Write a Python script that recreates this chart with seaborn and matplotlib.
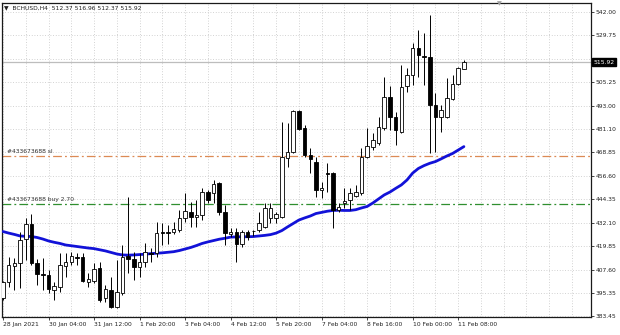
import numpy as np
import pandas as pd
import matplotlib
matplotlib.use("Agg")
import matplotlib.pyplot as plt
import matplotlib.transforms as mtransforms
import seaborn as sns

sns.set_style("white")
plt.rcParams['font.family'] = ['DejaVu Sans']

# ---------------- data (BCHUSD H4) ----------------
opens = [392.9, 401.2, 409.6, 411.1, 423.6, 431.4, 411.1, 405.4, 404.8, 397.0,
         398.6, 409.6, 411.6, 414.2, 414.2, 401.2, 401.7, 408.5, 392.9, 397.0,
         388.2, 395.5, 414.7, 413.2, 409.1, 411.6, 416.3, 416.3, 427.3, 427.3,
         427.3, 428.3, 434.6, 437.7, 435.1, 436.1, 448.1, 447.6, 452.8, 437.7,
         426.2, 427.3, 421.0, 427.3, 427.8, 428.3, 429.9, 434.6, 434.6, 435.1,
         465.9, 469.0, 490.4, 481.5, 467.4, 463.8, 449.2, 458.0, 458.0, 438.7,
         442.4, 444.0, 446.0, 447.6, 466.4, 471.6, 473.7, 481.5, 497.7, 487.2,
         479.4, 503.4, 509.1, 523.2, 519.1, 518.5, 493.5, 487.2, 487.2, 496.6,
         504.5, 512.37]
highs = [401.5, 414.2, 413.7, 427.3, 434.6, 436.7, 413.2, 413.7, 407.5, 401.2,
         416.3, 416.3, 416.8, 416.3, 416.3, 405.9, 411.1, 411.6, 399.6, 403.8,
         412.7, 420.5, 445.7, 416.8, 416.3, 421.5, 418.9, 432.5, 432.0, 431.0,
         432.5, 438.7, 447.6, 442.9, 444.0, 450.2, 449.2, 454.4, 453.5, 441.3,
         429.4, 429.4, 428.3, 428.3, 428.3, 437.7, 442.4, 442.4, 437.7, 484.6,
         484.1, 490.9, 491.0, 483.1, 471.1, 466.4, 453.3, 463.3, 458.5, 442.4,
         450.2, 450.2, 451.8, 471.1, 481.5, 478.9, 487.2, 508.1, 503.4, 489.9,
         514.4, 512.8, 525.8, 532.6, 531.0, 540.4, 499.8, 493.5, 507.6, 509.1,
         513.3, 516.96]
lows = [391.8, 398.6, 397.0, 398.1, 412.7, 410.0, 399.6, 397.0, 395.5, 391.8,
        396.0, 403.8, 410.0, 410.0, 401.2, 398.6, 400.7, 390.8, 390.8, 387.6,
        387.6, 394.4, 405.9, 402.2, 403.8, 409.1, 411.6, 414.2, 420.5, 421.0,
        426.0, 427.3, 432.5, 429.9, 429.9, 433.5, 442.4, 442.4, 436.1, 420.5,
        424.7, 411.6, 419.4, 423.0, 425.0, 427.3, 429.4, 432.0, 432.0, 434.6,
        461.2, 468.5, 480.5, 466.4, 458.0, 445.5, 445.0, 448.1, 429.4, 437.7,
        439.8, 438.7, 445.5, 446.6, 465.9, 470.0, 472.6, 480.5, 480.5, 472.6,
        478.9, 500.3, 503.9, 508.1, 503.9, 468.5, 469.0, 479.4, 486.7, 496.1,
        503.9, 512.37]
closes = [401.2, 410.1, 411.1, 423.1, 431.4, 411.1, 405.4, 404.8, 397.5, 399.1,
          410.1, 411.6, 414.7, 413.7, 401.7, 402.8, 408.0, 391.8, 397.5, 388.2,
          396.0, 414.2, 413.2, 409.1, 411.6, 416.8, 415.8, 426.7, 426.8, 427.0,
          428.8, 434.6, 438.2, 435.1, 436.1, 448.1, 444.0, 452.3, 437.7, 426.7,
          427.3, 421.0, 427.3, 424.7, 427.6, 432.0, 439.8, 439.8, 436.7, 466.4,
          469.0, 490.4, 481.0, 467.4, 465.3, 449.2, 450.2, 457.5, 438.7, 440.3,
          443.4, 447.6, 448.0, 466.4, 472.1, 475.2, 482.0, 497.7, 487.2, 480.5,
          502.9, 509.1, 523.2, 519.6, 518.6, 493.5, 487.2, 490.9, 497.2, 504.5,
          512.8, 515.92]
ma = [427.5, 426.7, 426.0, 425.2, 425.0, 424.9, 424.4, 423.6, 422.6, 421.9,
      421.3, 420.5, 420.1, 419.7, 419.3, 418.9, 418.6, 418.0, 417.4, 416.6,
      415.8, 415.3, 415.2, 415.3, 415.5, 415.7, 416.0, 416.2, 416.4, 416.7,
      417.0, 417.6, 418.4, 419.2, 420.2, 421.3, 422.1, 422.8, 423.5, 424.0,
      424.6, 424.7, 424.8, 424.8, 424.9, 425.2, 425.5, 425.9, 426.7, 428.0,
      429.9, 431.7, 433.5, 434.6, 435.6, 436.9, 437.5, 438.1, 438.5, 438.6,
      438.5, 438.5, 438.9, 439.8, 440.6, 442.4, 444.5, 446.6, 448.1, 450.0,
      451.8, 454.4, 458.0, 460.4, 461.9, 463.1, 464.0, 465.4, 466.9, 468.2,
      470.0, 471.8]

x_labels = ["28 Jan 2021", "30 Jan 04:00", "31 Jan 12:00", "1 Feb 20:00",
            "3 Feb 04:00", "4 Feb 12:00", "5 Feb 20:00", "7 Feb 04:00",
            "8 Feb 16:00", "10 Feb 00:00", "11 Feb 08:00"]
y_ticks = [542.00, 529.75, 517.50, 505.25, 493.00, 481.10, 468.85, 456.60,
           444.35, 432.10, 419.85, 407.60, 395.35, 383.45]
sl_level = 467.0
buy_level = 441.9
symbol = "BCHUSD,H4"
sl_text = "#433673688 sl"
buy_text = "#433673688 buy 2.70"

df = pd.DataFrame({"o": opens, "h": highs, "l": lows, "c": closes, "ma": ma})
df["i"] = np.arange(len(df))

# ---------------- figure ----------------
W, H = 620, 335
fig = plt.figure(figsize=(W / 100, H / 100), dpi=100)
left_px, right_px, top_px, bot_px = 1.5, 590.5, 3, 317
ax = fig.add_axes([left_px / W, 1 - bot_px / H, (right_px - left_px) / W, (bot_px - top_px) / H])
ax.set_facecolor("white")

ax.set_xlim(-0.264, 103.25)
ax.set_ylim(382.94, 546.69)

grid_kw = dict(color="#c4c4c4", lw=0.6, ls=(0, (1.0, 2.2)), zorder=0)
for gx in range(0, 104, 4):
    ax.axvline(gx, **grid_kw)
for gy in y_ticks:
    ax.axhline(gy, **grid_kw)

# bid line
ax.axhline(closes[-1], color="#bdbdbd", lw=0.9, zorder=1)

# order lines
ax.axhline(sl_level, color="#dc8a55", lw=0.9, ls=(0, (7, 2.5, 1.5, 2.5)), zorder=1)
ax.axhline(buy_level, color="#2f8f2f", lw=0.9, ls=(0, (7, 2.5, 1.5, 2.5)), zorder=1)
blend = mtransforms.blended_transform_factory(ax.transAxes, ax.transData)
ax.text(0.0095, sl_level + 1.0, sl_text, transform=blend, fontsize=4.3,
        color="#303030", va="bottom", ha="left", zorder=5)
ax.text(0.0095, buy_level + 1.0, buy_text, transform=blend, fontsize=4.3,
        color="#303030", va="bottom", ha="left", zorder=5)

# moving average
sns.lineplot(data=df, x="i", y="ma", color="#1212d8", lw=2.0, ax=ax, zorder=3)

# candles
ax.vlines(df["i"], df["l"], df["h"], color="black", lw=0.7, zorder=4)
body_bottom = np.minimum(df["o"], df["c"])
body_h = np.maximum(np.abs(df["c"] - df["o"]), 0.35)
up = df["c"] >= df["o"]
ax.bar(df["i"][up], body_h[up], bottom=body_bottom[up], width=0.62,
       facecolor="white", edgecolor="black", lw=0.6, zorder=5)
ax.bar(df["i"][~up], body_h[~up], bottom=body_bottom[~up], width=0.62,
       facecolor="black", edgecolor="black", lw=0.6, zorder=5)

ax.set_xlabel("")
ax.set_ylabel("")

# axes / ticks
ax.set_xticks(range(0, 8 * len(x_labels), 8))
ax.set_xticklabels(x_labels, fontsize=4.3, color="#202020")
for lab in ax.get_xticklabels():
    lab.set_ha("left")
ax.tick_params(axis="x", direction="out", length=2.5, width=0.6, pad=1.2, bottom=True)
ax.yaxis.tick_right()
ax.set_yticks(y_ticks)
# the 517.50 label sits under the current-price box in the reference
ax.set_yticklabels(["" if abs(v - closes[-1]) < 4 else f"{v:.2f}" for v in y_ticks],
                   fontsize=4.3, color="#202020")
ax.tick_params(axis="y", direction="out", length=2.5, width=0.6, pad=1.0, right=True, left=False)
for s in ax.spines.values():
    s.set_color("#1a1a1a")
    s.set_linewidth(0.9)
    s.set_visible(True)

# current price box on the axis
ax.text(1.0045, closes[-1], f"{closes[-1]:.2f}", transform=blend, fontsize=4.3,
        color="white", va="center", ha="left", clip_on=False, zorder=10,
        bbox=dict(boxstyle="square,pad=0.25", facecolor="black", edgecolor="black"))

# header
o, h, l, c = opens[-1], highs[-1], lows[-1], closes[-1]
fig.text(4 / W, 1 - 8 / H, f"\u25bc  {symbol}  {o:.2f} {h:.2f} {l:.2f} {c:.2f}",
         fontsize=4.3, color="#202020", va="center", ha="left")
# chart shift marker
fig.text(499 / W, 1 - 4 / H, "\u25bc", fontsize=4.5, color="#a0a0a0", va="center", ha="center")

fig.savefig("out.png", dpi=100, facecolor="white")
